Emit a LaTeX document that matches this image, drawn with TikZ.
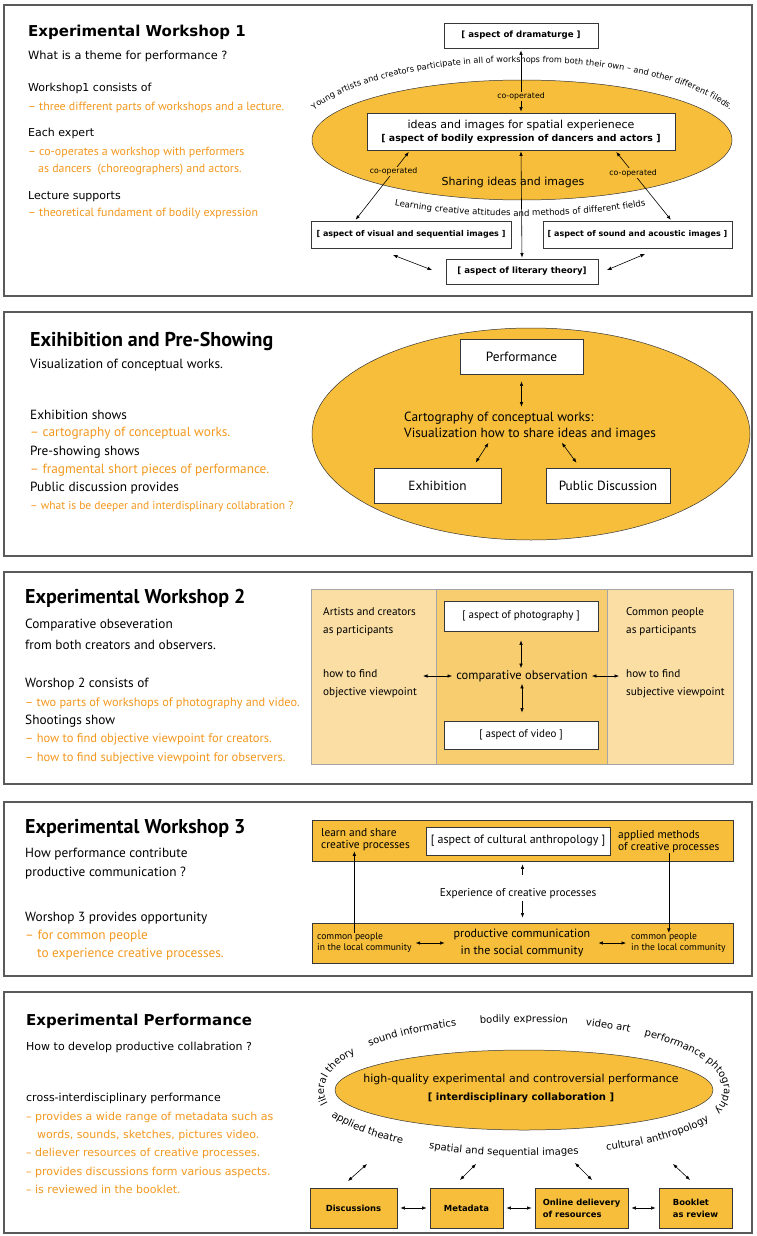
\documentclass[tikz,border=0pt]{standalone}
\usepackage{fontspec}
\setmainfont{DejaVu Sans}
\newfontfamily\myr{PT Sans}
\usetikzlibrary{arrows.meta,positioning,decorations.text}

\definecolor{orfill}{RGB}{246,190,58}
\definecolor{ortext}{RGB}{243,152,30}
\definecolor{lightor}{RGB}{250,222,164}
\definecolor{midor}{RGB}{248,205,112}
\definecolor{frame}{RGB}{90,90,90}
\definecolor{edge}{RGB}{55,55,55}
\definecolor{softgray}{RGB}{165,165,165}

\begin{document}
\begin{tikzpicture}[
  x=1pt, y=-1pt,
  panel/.style={draw=frame, line width=1.1pt},
  ttl/.style={anchor=west, inner sep=0pt, font=\bfseries\fontsize{15}{17}\selectfont},
  mttl/.style={anchor=west, inner sep=0pt, font=\myr\bfseries\fontsize{20}{22}\selectfont},
  dtx/.style={anchor=west, inner sep=0pt, font=\fontsize{11}{13}\selectfont},
  mtx/.style={anchor=west, inner sep=0pt, font=\myr\fontsize{13.3}{15}\selectfont},
  otx/.style={anchor=west, inner sep=0pt, text=ortext, font=\myr\fontsize{11.9}{13}\selectfont},
  ora/.style={text=ortext},
  side/.style={anchor=west, inner sep=0pt, align=left, font=\myr\fontsize{11.2}{18}\selectfont},
  abox/.style={draw=edge, fill=white, line width=0.8pt, inner sep=1pt,
    font=\bfseries\fontsize{8}{10}\selectfont},
  mbox/.style={draw=edge, fill=white, line width=0.8pt, inner sep=1pt,
    font=\myr\fontsize{13.3}{15}\selectfont},
  obox/.style={draw=edge, fill=orfill, line width=0.8pt, inner sep=1pt,
    font=\bfseries\fontsize{8.4}{12}\selectfont},
  bar/.style={draw=edge, fill=orfill, line width=0.8pt},
  blob/.style={fill=orfill, draw=edge, line width=0.5pt},
  lab/.style={inner sep=1pt, font=\fontsize{7.8}{9}\selectfont},
  arr/.style={{Latex[length=4.5pt,width=3.5pt]}-{Latex[length=4.5pt,width=3.5pt]}, line width=0.6pt},
  sarr/.style={-{Latex[length=4.5pt,width=3.5pt]}, line width=0.6pt},
  ring/.style={decorate, decoration={text along path, text align=center,
    text={|\fontsize{10}{12}\selectfont|#1}}}
]
  \path[use as bounding box, fill=white] (0,0) rectangle (756,1236);

  \draw[panel] (4,5) rectangle (752,296);
  \node[ttl] (t1) at (28,32) {Experimental Workshop 1};
  \node[dtx, font=\fontsize{11.4}{13}\selectfont] (q1) at (28,56) {What is a theme for performance ?};
  \node[dtx] (a1) at (28,88) {Workshop1 consists of};
  \node[otx] (b1) at (28,107) {– three different parts of workshops and a lecture.};
  \node[dtx] (c1) at (28,133) {Each expert};
  \node[otx] (d1) at (28,152) {– co-operates a workshop with performers};
  \node[otx] (e1) at (38,170) {as dancers\ \ (choreographers) and actors.};
  \node[dtx] (f1) at (28,197) {Lecture supports};
  \node[otx] (g1) at (28,214) {– theoretical fundament of bodily expression};

  \filldraw[blob] (522,140) ellipse [x radius=210, y radius=60];
  \node[abox, minimum width=154pt, minimum height=25pt,
    font=\bfseries\fontsize{8.6}{10}\selectfont] (drama) at (521,35.5)
    {[ aspect of dramaturge ]};
  \node[abox, minimum width=308pt, minimum height=37pt, align=center,
    font=\fontsize{11}{13}\selectfont] (idea) at (521,131.5)
    {ideas and images for spatial experienece\\
     {\bfseries\fontsize{9.4}{11}\selectfont [ aspect of bodily expression of dancers and actors ]}};
  \node[abox, minimum width=200pt, minimum height=27pt] (visual) at (411,234.5)
    {[ aspect of visual and sequential images ]};
  \node[abox, minimum width=189pt, minimum height=27pt] (sound) at (637.5,234.5)
    {[ aspect of sound and acoustic images ]};
  \node[abox, minimum width=152pt, minimum height=25pt,
    font=\bfseries\fontsize{8.6}{10}\selectfont] (lit) at (522,271.5)
    {[ aspect of literary theory]};

  \path[decorate, decoration={text along path, text align=center,
    text={|\fontsize{8.2}{9}\selectfont|Young artists and creators participate in all of workshops from both their own – and other different fileds.}}]
    (297.1,137.3) arc[start angle=182, end angle=358, x radius=225, y radius=78];
  \path[decorate, decoration={text along path, text align=center,
    text={|\fontsize{8.6}{9}\selectfont|Learning creative attitudes and methods of different fields}}]
    (379.5,202.3) arc[start angle=125, end angle=55, x radius=245, y radius=76];

  \draw[arr, shorten <=1pt, shorten >=2pt] (idea.north) --
    node[lab, fill=orfill, pos=0.25] (coop1) {co-operated} (drama.south);
  \draw[arr, shorten <=1pt, shorten >=2pt] ([xshift=-56pt]visual.north) --
    node[lab, fill=orfill, pos=0.7] (coop2) {co-operated} ([xshift=-111pt]idea.south);
  \draw[arr, shorten <=2pt, shorten >=1pt] ([xshift=94pt]idea.south) --
    node[lab, fill=orfill, pos=0.32] (coop3) {co-operated} ([xshift=34pt]sound.north);
  \draw[arr, shorten <=1pt, shorten >=1pt] (idea.south) -- (lit.north);
  \node[font=\fontsize{11}{13}\selectfont, inner sep=0pt] (share) at (513,182)
    {Sharing ideas and images};

  \coordinate (vl1) at (393,255);
  \coordinate (vl2) at (432,270);
  \coordinate (ls1) at (607,270);
  \coordinate (ls2) at (645,254);
  \draw[arr] (vl1) -- (vl2);
  \draw[arr] (ls1) -- (ls2);

  \draw[panel] (4,312) rectangle (752,556);
  \node[mttl] (t2) at (30,341) {Exihibition and Pre-Showing};
  \node[mtx] (q2) at (30,365) {Visualization of conceptual works.};
  \node[mtx] (a2) at (30,415) {Exhibition shows};
  \node[mtx, ora] (b2) at (30,433) {– cartography of conceptual works.};
  \node[mtx] (c2) at (30,452) {Pre-showing shows};
  \node[mtx, ora] (d2) at (30,470) {– fragmental short pieces of performance.};
  \node[mtx] (e2) at (30,488) {Public discussion provides};
  \node[mtx, ora, font=\myr\fontsize{11.5}{13}\selectfont] (f2) at (30,507)
    {– what is be deeper and interdisplinary collabration ?};

  \filldraw[blob] (531,434) ellipse [x radius=219, y radius=106];
  \node[mbox, minimum width=123pt, minimum height=35pt] (perf) at (521.5,356.5) {Performance};
  \node[mtx, align=left, font=\myr\fontsize{13.3}{16}\selectfont] (carto) at (404,426)
    {Cartography of conceptual works:\\Visualization how to share ideas and images};
  \node[mbox, minimum width=127pt, minimum height=35pt] (exhib) at (437.5,485.5) {Exhibition};
  \node[mbox, minimum width=124pt, minimum height=35pt] (pubd) at (608,485.5) {Public Discussion};
  \draw[arr, shorten <=7pt, shorten >=5pt] (perf.south) -- (perf.south |- carto.north);
  \draw[arr, shorten <=3pt, shorten >=6pt] ([xshift=-40pt]carto.south) -- ([xshift=35pt]exhib.north);
  \draw[arr, shorten <=3pt, shorten >=6pt] ([xshift=30pt]carto.south) -- ([xshift=-28pt]pubd.north);

  \draw[panel] (4,572) rectangle (752,784);
  \node[mttl] (t3) at (25,598) {Experimental Workshop 2};
  \node[mtx] (q3a) at (25,625) {Comparative obseveration};
  \node[mtx] (q3b) at (25,645) {from both creators and observers.};
  \node[mtx] (a3) at (25,684) {Worshop 2 consists of};
  \node[mtx, ora, font=\myr\fontsize{12.3}{14}\selectfont] (b3) at (25,703)
    {– two parts of workshops of photography and video.};
  \node[mtx] (c3) at (25,721) {Shootings show};
  \node[mtx, ora, font=\myr\fontsize{12.5}{14}\selectfont] (d3) at (25,739)
    {– how to find objective viewpoint for creators.};
  \node[mtx, ora, font=\myr\fontsize{12.5}{14}\selectfont] (e3) at (25,758)
    {– how to find subjective viewpoint for observers.};

  \filldraw[fill=lightor, draw=softgray, line width=0.8pt] (311,589) rectangle (733,764);
  \filldraw[fill=midor, draw=softgray, line width=0.8pt] (436,589) rectangle (607,764);
  \node[mbox, font=\myr\fontsize{11}{12}\selectfont, minimum width=154pt,
    minimum height=30pt] (photo) at (521,616) {[ aspect of photography ]};
  \node[mbox, font=\myr\fontsize{11}{12}\selectfont, minimum width=154pt,
    minimum height=28pt] (video) at (521,735) {[ aspect of video ]};
  \node[inner sep=0pt, font=\myr\fontsize{12.5}{14}\selectfont] (comp) at (522,676)
    {comparative observation};
  \node[side] (art) at (323,622) {Artists and creators\\as participants};
  \node[side] (obj) at (323,684) {how to find\\objective viewpoint};
  \node[side] (com) at (626,622) {Common people\\as participants};
  \node[side] (subj) at (626,684) {how to find\\subjective viewpoint};
  \draw[arr, shorten <=9pt, shorten >=2pt] (photo.south) -- (photo.south |- comp.north);
  \draw[arr, shorten <=2pt, shorten >=8pt] (comp.south) -- (comp.south |- video.north);
  \draw[arr, shorten <=4pt, shorten >=6pt] (comp.west) -- (comp.west -| obj.east);
  \draw[arr, shorten <=4pt, shorten >=7pt] (comp.east) -- (comp.east -| subj.west);

  \draw[panel] (4,802) rectangle (752,976);
  \node[mttl] (t4) at (25,828) {Experimental Workshop 3};
  \node[mtx] (q4a) at (25,854) {How performance contribute};
  \node[mtx] (q4b) at (25,873) {productive communication ?};
  \node[mtx] (a4) at (25,918) {Worshop 3 provides opportunity};
  \node[mtx, ora] (b4) at (25,936) {– for common people};
  \node[mtx, ora] (c4) at (37,954) {to experience creative processes.};

  \node[bar, minimum width=421pt, minimum height=41pt] (tbar) at (522.5,840.5) {};
  \node[bar, minimum width=421pt, minimum height=40pt] (bbar) at (522.5,943) {};
  \node[mbox, font=\myr\fontsize{12}{13}\selectfont, minimum width=184pt,
    minimum height=28pt] (anth) at (518,841) {[ aspect of cultural anthropology ]};
  \node[side, font=\myr\fontsize{11.4}{12}\selectfont] (learn) at (321,840)
    {learn and share\\creative processes};
  \node[side, font=\myr\fontsize{11.4}{12}\selectfont] (appl) at (618,842)
    {applied methods\\of creative processes};
  \node[inner sep=0pt, font=\myr\fontsize{11.3}{12}\selectfont] (expc) at (518,894)
    {Experience of creative processes};
  \draw[sarr, shorten <=14pt, shorten >=3pt] (tbar.south |- expc.north) -- (tbar.south);
  \draw[sarr, shorten <=2pt, shorten >=5pt] (bbar.north |- expc.south) -- (bbar.north);
  \node[side, font=\myr\fontsize{9.6}{11}\selectfont] (cp1) at (317,943)
    {common people\\in the local community};
  \node[align=center, inner sep=0pt, font=\myr\fontsize{12}{17}\selectfont] (prod) at (522,943)
    {productive communication\\in the social community};
  \node[side, font=\myr\fontsize{9.6}{11}\selectfont] (cp2) at (631,943)
    {common people\\in the local community};
  \draw[arr, shorten <=4pt, shorten >=9pt] (cp1.east) -- (prod.west);
  \draw[arr, shorten <=8pt, shorten >=5pt] (prod.east) -- (cp2.west);
  \draw[sarr] ([xshift=-10pt]cp1.north) -- ([xshift=-10pt]cp1.north |- learn.south);
  \draw[sarr] (appl.south) -- (appl.south |- cp2.north);

  \draw[panel] (4,992) rectangle (752,1233);
  \node[ttl] (t5) at (26,1021) {Experimental Performance};
  \node[dtx] (q5) at (26,1047) {How to develop productive collabration ?};
  \node[dtx] (a5) at (26,1098) {cross-interdisciplinary performance};
  \node[dtx, ora] (b5) at (26,1117) {– provides a wide range of metadata such as};
  \node[dtx, ora] (c5) at (37,1135) {words, sounds, sketches, pictures video.};
  \node[dtx, ora] (d5) at (26,1153) {– deliever resources of creative processes.};
  \node[dtx, ora] (e5) at (26,1172) {– provides discussions form various aspects.};
  \node[dtx, ora] (f5) at (26,1189) {– is reviewed in the booklet.};

  \filldraw[blob] (524,1090) ellipse [x radius=189, y radius=40];
  \node[align=center, inner sep=0pt, font=\fontsize{11}{18}\selectfont] (collab) at (521,1088)
    {high-quality experimental and controversial performance\\
     {\bfseries\fontsize{10}{12}\selectfont [ interdisciplinary collaboration ]}};

  \path[ring={literal theory}] (330.8,1107.6) arc[start angle=165, end angle=215, x radius=200, y radius=68];
  \path[ring={sound informatics}] (364.3,1049.1) arc[start angle=217, end angle=252, x radius=200, y radius=68];
  \path[ring={bodily expression}] (472.2,1024.3) arc[start angle=255, end angle=285, x radius=200, y radius=68];
  \path[ring={video art}] (582.5,1025.0) arc[start angle=287, end angle=303, x radius=200, y radius=68];
  \path[ring={performance phtography}] (638.7,1034.3) arc[start angle=305, end angle=381, x radius=200, y radius=68];
  \path[ring={applied theatre}] (323.2,1109.3) arc[start angle=163, end angle=122, x radius=210, y radius=66];
  \path[ring={spatial and sequential images}] (422.2,1147.7) arc[start angle=119, end angle=73, x radius=210, y radius=66];
  \path[ring={cultural anthropology}] (602.7,1151.2) arc[start angle=68, end angle=26, x radius=210, y radius=66];

  \node[obox, minimum width=87pt, minimum height=40pt] (disc) at (353.5,1208) {Discussions};
  \node[obox, minimum width=73pt, minimum height=40pt] (meta) at (466.5,1208) {Metadata};
  \node[obox, minimum width=93pt, minimum height=40pt, align=left] (online) at (581.5,1208)
    {Online delievery\\of resources};
  \node[obox, minimum width=73pt, minimum height=40pt, align=left] (book) at (695.5,1208)
    {Booklet\\as review};
  \draw[arr, shorten <=3pt, shorten >=3pt] (disc) -- (meta);
  \draw[arr, shorten <=3pt, shorten >=3pt] (meta) -- (online);
  \draw[arr, shorten <=3pt, shorten >=3pt] (online) -- (book);

  \coordinate (p1) at (348,1181);
  \coordinate (q1) at (367,1164);
  \coordinate (p2) at (460,1180);
  \coordinate (q2) at (476,1164);
  \coordinate (p3) at (592,1180);
  \coordinate (q3) at (575,1163);
  \coordinate (p4) at (690,1180);
  \coordinate (q4) at (673,1164);
  \draw[arr] (p1) -- (q1);
  \draw[arr] (p2) -- (q2);
  \draw[arr] (p3) -- (q3);
  \draw[arr] (p4) -- (q4);
\end{tikzpicture}
\end{document}
